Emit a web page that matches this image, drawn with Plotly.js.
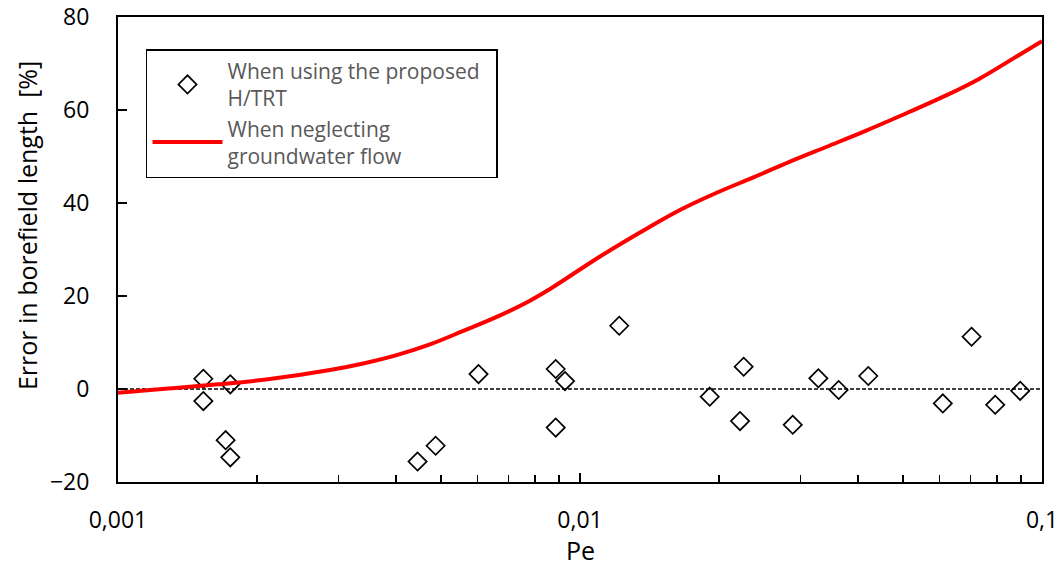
<!DOCTYPE html>
<html>
<head>
<meta charset="utf-8">
<script src="https://cdn.plot.ly/plotly-3.0.1.min.js"></script>
<style>
  html, body { margin: 0; padding: 0; background: #ffffff; }
  #chart { width: 1063px; height: 567px; }
</style>
</head>
<body>
<div id="chart"></div>
<script>
// Péclet numbers of the test cases and the resulting error with the H/TRT method
const pePoints = [0.00153, 0.00153, 0.00175, 0.00171, 0.00175, 0.00445, 0.00487, 0.00603,
                  0.00886, 0.00928, 0.00886, 0.01216, 0.01909, 0.02261, 0.02220, 0.02887,
                  0.03280, 0.03630, 0.04207, 0.0610, 0.0704, 0.0792, 0.0897];
const errPoints = [2.2, -2.6, 1.0, -11.0, -14.7, -15.6, -12.2, 3.2,
                   4.3, 1.7, -8.3, 13.6, -1.65, 4.8, -6.9, -7.7,
                   2.3, -0.2, 2.8, -3.1, 11.25, -3.4, -0.4];

// Error when groundwater flow is neglected
const peCurve = [0.001, 0.001283, 0.001646, 0.002112, 0.002876, 0.003396, 0.004010, 0.004734,
                 0.005590, 0.006603, 0.007793, 0.00861, 0.01105, 0.01417, 0.01646, 0.01976,
                 0.02372, 0.02848, 0.03420, 0.04103, 0.04928, 0.06218, 0.0734, 0.0867, 0.1];
const errCurve = [-0.8, 0.1, 1.0, 2.1, 4.1, 5.5, 7.3, 9.6,
                  12.5, 15.5, 19.0, 21.5, 28.5, 34.9, 38.5, 42.2,
                  45.5, 48.9, 52.1, 55.3, 58.7, 63.2, 66.8, 71.1, 74.8];

// Axis ticks
const xTickVals = [0.001, 0.01, 0.1];
const xTickText = ['0,001', '0,01', '0,1'];
const xMinorVals = [0.002, 0.003, 0.004, 0.005, 0.006, 0.007, 0.008, 0.009,
                    0.02, 0.03, 0.04, 0.05, 0.06, 0.07, 0.08, 0.09];
const yTickVals = [-20, 0, 20, 40, 60, 80];

const seriesNames = ['When using the proposed\u00a0\u00a0<br>H/TRT', 'When neglecting<br>groundwater flow'];
const xTitle = 'Pe';
const yTitle = 'Error in borefield length \u00a0[%]';

const FONT = '"Open Sans", Lato, sans-serif';

const traces = [
  {
    x: pePoints, y: errPoints,
    type: 'scatter', mode: 'markers',
    name: seriesNames[0],
    marker: { symbol: 'diamond-open', size: 14, color: '#000000', line: { width: 1.7, color: '#000000' } }
  },
  {
    x: peCurve, y: errCurve,
    type: 'scatter', mode: 'lines',
    name: seriesNames[1],
    line: { color: '#ff0000', width: 4, shape: 'spline', smoothing: 1 }
  }
];

const layout = {
  width: 1063, height: 567,
  margin: { l: 118, r: 21, t: 17, b: 85 },
  paper_bgcolor: '#ffffff', plot_bgcolor: '#ffffff',
  font: { family: FONT, size: 23, color: '#000000' },
  showlegend: true,
  legend: {
    x: 0.0303, y: 0.931, xanchor: 'left', yanchor: 'top',
    bgcolor: '#ffffff', bordercolor: '#000000', borderwidth: 1.5,
    font: { family: FONT, size: 21, color: '#595959' },
    itemwidth: 70
  },
  xaxis: {
    type: 'log', range: [-3, -1],
    tickmode: 'array', tickvals: xTickVals, ticktext: xTickText,
    ticks: 'inside', ticklen: 9, tickwidth: 1.5, tickcolor: '#000000',
    minor: { tickmode: 'array', tickvals: xMinorVals, ticks: 'inside', ticklen: 7, tickwidth: 1.5, tickcolor: '#000000' },
    showline: true, linecolor: '#000000', linewidth: 2, mirror: true,
    showgrid: false, zeroline: false,
    ticklabelstandoff: 16,
    tickfont: { family: FONT, size: 23, color: '#000000' }
  },
  yaxis: {
    range: [-20, 80],
    tickmode: 'array', tickvals: yTickVals,
    ticks: 'inside', ticklen: 9, tickwidth: 1.5, tickcolor: '#000000',
    showline: true, linecolor: '#000000', linewidth: 2, mirror: true,
    showgrid: false, zeroline: false,
    ticklabelstandoff: 22,
    tickfont: { family: FONT, size: 23, color: '#000000' }
  },
  annotations: [
    { text: xTitle, xref: 'paper', yref: 'paper', x: 0.5, y: -0.1462,
      xanchor: 'center', yanchor: 'middle', showarrow: false, borderpad: 0,
      font: { family: FONT, size: 25, color: '#000000' } },
    { text: yTitle, xref: 'paper', yref: 'paper', x: 0, y: 0.5505,
      xanchor: 'center', yanchor: 'middle', xshift: -91, textangle: -90, showarrow: false,
      font: { family: FONT, size: 25, color: '#000000' } }
  ],
  shapes: [
    { type: 'line', xref: 'paper', x0: 0, x1: 1, yref: 'y', y0: 0, y1: 0,
      line: { color: '#000000', width: 1.3, dash: '4px,2px' }, layer: 'below' }
  ]
};

Plotly.newPlot('chart', traces, layout, { displayModeBar: false, staticPlot: true });
</script>
</body>
</html>
